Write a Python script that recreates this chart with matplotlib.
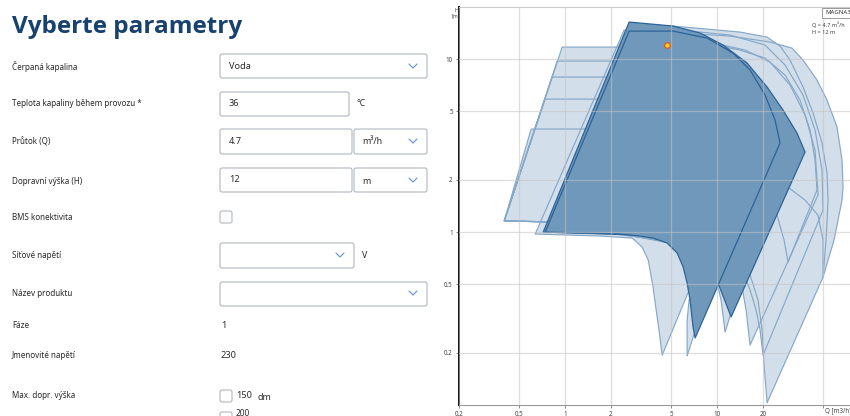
import matplotlib
matplotlib.use("Agg")
import matplotlib.pyplot as plt
from matplotlib.patches import Polygon, FancyBboxPatch, Rectangle

plt.rcParams["font.family"] = ["Noto Sans", "DejaVu Sans"]

# ---------------- form content ----------------
title = "Vyberte parametry"
form_labels = ["Čerpaná kapalina", "Teplota kapaliny během provozu *", "Průtok (Q)",
               "Dopravní výška (H)", "BMS konektivita", "Síťové napětí",
               "Název produktu", "Fáze", "Jmenovité napětí", "Max. dopr. výška"]
fluid = "Voda"
temperature = "36"
temp_unit = "°C"
flow = "4.7"
flow_unit = "m³/h"
head = "12"
head_unit = "m"
voltage_unit = "V"
phase = "1"
rated_voltage = "230"
max_head = "150"
max_head_unit = "dm"
next_option = "200"

# ---------------- chart content ----------------
x_ticks = [0.2, 0.5, 1, 2, 5, 10, 20, 50]
x_tick_labels = ["0.2", "0.5", "1", "2", "5", "10", "20", ""]
y_ticks = [0.2, 0.5, 1, 2, 5, 10]
y_tick_labels = ["0.2", "0.5", "1", "2", "5", "10"]
duty_q = 4.7
duty_h = 12
legend_name = "MAGNA3"
duty_text = ["Q = 4.7 m³/h", "H = 12 m"]

# light pump envelopes (Q [m3/h], H [m])
pump_a_q = [0.397, 0.956, 3.114, 7.73, 12.18, 10.46, 6.64, 2.30, 0.927]
pump_a_h = [1.16, 11.73, 11.73, 9.87, 4.44, 1.53, 1.03, 1.10, 1.14]
pump_b_q = [0.397, 0.886, 2.677, 7.73, 11.29, 9.70, 6.64, 2.30, 0.927]
pump_b_h = [1.16, 9.74, 9.74, 8.08, 3.89, 1.34, 1.03, 1.10, 1.14]
pump_c_q = [0.397, 0.821, 2.30, 6.64, 9.70, 8.34, 5.71, 2.30, 0.927]
pump_c_h = [1.16, 7.87, 7.87, 6.62, 3.40, 1.25, 1.03, 1.10, 1.14]
pump_d_q = [0.397, 0.739, 1.977, 5.71, 8.34, 7.17, 4.91, 2.30, 0.927]
pump_d_h = [1.16, 5.87, 5.87, 5.07, 2.61, 1.17, 1.03, 1.10, 1.14]
pump_e_q = [0.397, 0.597, 1.699, 4.91, 7.17, 6.16, 4.22, 2.30, 0.927]
pump_e_h = [1.16, 3.94, 3.94, 3.40, 2.00, 1.10, 1.03, 1.10, 1.14]

pump_t1_q = [0.635, 2.444, 7.73, 13.14, 19.18, 22.33, 9.56, 4.35, 4.15, 3.97, 3.79, 3.52, 3.21, 2.76, 1.699]
pump_t1_h = [0.974, 14.71, 12.88, 9.61, 6.19, 3.40, 1.03, 0.194, 0.271, 0.354, 0.481, 0.689, 0.819, 0.923, 0.948]
pump_p2_q = [1.164, 2.677, 7.73, 14.17, 12.18, 8.34, 6.35, 6.35, 6.54, 7.17, 7.73, 5.71, 3.114]
pump_p2_h = [1.05, 12.88, 12.05, 2.98, 1.17, 0.404, 0.192, 0.310, 0.404, 0.528, 0.689, 0.841, 1.0]
pump_p3_q = [1.079, 2.887, 7.73, 19.18, 30.22, 19.18, 13.75, 11.29, 10.62, 10.0, 8.34, 5.71, 1.699]
pump_p3_h = [1.05, 13.76, 12.05, 5.79, 2.98, 1.03, 0.462, 0.264, 0.404, 0.507, 0.645, 0.841, 1.03]
pump_r1_q = [1.079, 2.887, 7.73, 15.29, 22.33, 30.22, 37.93, 44.13, 46.19, 16.49, 15.52, 14.83, 13.75, 10.46, 5.71, 1.699]
pump_r1_h = [1.05, 14.32, 12.88, 11.27, 9.61, 7.07, 4.75, 2.98, 1.64, 0.222, 0.354, 0.444, 0.603, 0.787, 0.899, 1.0]
pump_r2_q = [1.164, 3.114, 5.71, 12.18, 20.70, 28.03, 36.80, 44.13, 49.08, 49.83, 20.07, 19.18, 18.06, 16.49, 14.60, 7.73, 1.699]
pump_r2_h = [1.05, 14.71, 14.71, 13.76, 12.05, 9.23, 6.19, 3.89, 2.28, 1.34, 0.194, 0.271, 0.354, 0.462, 0.603, 0.841, 1.0]
pump_r3_q = [1.164, 3.114, 5.71, 12.18, 22.33, 31.15, 36.80, 45.49, 52.94, 61.58, 66.44, 67.46, 66.44, 58.86,
             49.83, 21.33, 20.38, 19.78, 18.61, 16.49, 13.14, 7.73, 1.699]
pump_r3_h = [1.05, 14.14, 14.14, 13.58, 12.54, 11.57, 9.87, 7.56, 5.79, 4.05, 2.61, 1.82, 1.53, 0.899,
             0.549, 0.103, 0.170, 0.271, 0.404, 0.564, 0.689, 0.841, 1.0]
pump_r4_q = [1.255, 3.36, 7.73, 14.17, 20.70, 28.03, 35.17, 40.91, 44.13, 45.49, 29.32, 27.60, 24.82, 22.33, 10.46, 3.62]
pump_r4_h = [1.05, 13.58, 12.54, 11.27, 10.13, 8.08, 5.79, 3.89, 2.61, 1.75, 0.671, 0.899, 1.25, 1.64, 2.28, 1.53]
pump_r5_q = [1.079, 2.677, 5.13, 14.17, 21.33, 25.97, 30.22, 36.80, 42.81, 49.08, 52.94, 53.75, 52.14, 49.83,
             49.83, 46.19, 37.93, 28.03, 14.17, 7.73, 1.699]
pump_r5_h = [1.05, 15.52, 15.52, 14.32, 13.40, 11.89, 9.87, 6.89, 4.88, 3.27, 2.19, 1.53, 0.899, 0.549,
             0.899, 1.25, 1.53, 1.87, 1.53, 1.03, 1.03]

# selected pump envelopes (dark)
sel_outer_q = [0.717, 2.637, 3.114, 5.13, 7.73, 10.95, 15.76, 21.33, 27.18, 33.60, 37.93, 12.37, 10.15, 8.34, 5.71, 3.114]
sel_outer_h = [1.0, 16.37, 16.15, 15.52, 14.14, 12.05, 9.48, 6.89, 5.07, 3.73, 2.90, 0.323, 0.507, 0.736, 0.899, 0.961]
sel_inner_q = [0.739, 2.637, 5.13, 8.60, 12.75, 16.49, 20.70, 24.08, 25.97, 7.17, 6.95, 6.64, 6.35, 5.98, 5.46,
               4.69, 3.79, 3.114, 2.30]
sel_inner_h = [1.0, 14.51, 14.51, 13.22, 10.83, 8.64, 6.19, 4.44, 3.27, 0.244, 0.282, 0.404, 0.507, 0.628, 0.756,
               0.864, 0.923, 0.948, 0.974]

light_pumps = [
    (pump_r3_q, pump_r3_h), (pump_r5_q, pump_r5_h), (pump_r2_q, pump_r2_h),
    (pump_r4_q, pump_r4_h), (pump_r1_q, pump_r1_h), (pump_p3_q, pump_p3_h),
    (pump_p2_q, pump_p2_h), (pump_t1_q, pump_t1_h),
    (pump_a_q, pump_a_h), (pump_b_q, pump_b_h), (pump_c_q, pump_c_h),
    (pump_d_q, pump_d_h), (pump_e_q, pump_e_h),
]
dark_pumps = [(sel_outer_q, sel_outer_h), (sel_inner_q, sel_inner_h)]

W, H = 850, 416
fig = plt.figure(figsize=(W / 100, H / 100), dpi=100)
fig.patch.set_facecolor("white")

# ---------------- chart ----------------
ax = fig.add_axes([459 / W, 11 / H, 410 / W, 398 / H])
ax.set_xscale("log")
ax.set_yscale("log")
ax.set_xlim(0.2, 100)
ax.set_ylim(0.1, 20)

LIGHT_FILL = "#d2deea"
LIGHT_EDGE = "#86a8c8"
DARK_FILL = "#7098bb"
DARK_EDGE = "#2b6397"

for q, h in light_pumps:
    ax.add_patch(Polygon(list(zip(q, h)), closed=True, fc=LIGHT_FILL, ec="none", zorder=1))
for q, h in light_pumps:
    ax.add_patch(Polygon(list(zip(q, h)), closed=True, fill=False, ec=LIGHT_EDGE, lw=0.85,
                         joinstyle="round", zorder=2))
for i, (q, h) in enumerate(dark_pumps):
    ax.add_patch(Polygon(list(zip(q, h)), closed=True, fc=DARK_FILL, ec=DARK_EDGE, lw=0.9,
                         joinstyle="round", zorder=3 + i))

for xv in x_ticks:
    ax.axvline(xv, color="#c4c4c4", alpha=0.55, lw=0.9, zorder=6)
for yv in y_ticks:
    ax.axhline(yv, color="#c4c4c4", alpha=0.55, lw=0.9, zorder=6)

ax.plot([duty_q], [duty_h], "o", ms=4, mfc="#ffd21f", mec="#e4541d", mew=0.9, zorder=8)

ax.set_xticks(x_ticks)
ax.set_xticklabels(x_tick_labels)
ax.set_yticks(y_ticks)
ax.set_yticklabels(y_tick_labels)
ax.minorticks_off()
ax.tick_params(axis="x", length=2.5, width=0.6, color="#777777", labelsize=4.5, pad=1.5, labelcolor="#444444")
ax.tick_params(axis="y", length=2, width=0.6, color="#777777", labelsize=4.5, pad=2.5, labelcolor="#444444")
ax.spines["right"].set_visible(False)
ax.spines["left"].set_color("#111111")
ax.spines["left"].set_linewidth(1.4)
ax.spines["bottom"].set_color("#999999")
ax.spines["bottom"].set_linewidth(0.8)
ax.spines["top"].set_color("#cccccc")
ax.spines["top"].set_linewidth(0.8)
ax.annotate("Q [m3/h]", (50, 0.1), xytext=(2, -6), textcoords="offset pixels",
            ha="left", va="center", fontsize=4.5, color="#444444", annotation_clip=False)

# ---------------- overlay (form + chart annotations) ----------------
ov = fig.add_axes([0, 0, 1, 1])
ov.set_xlim(0, W)
ov.set_ylim(H, 0)
ov.axis("off")

TEXT = "#2a2a2a"
BORDER = "#b0b7bf"
CHEV = "#5d93d4"


def box(x0, y0, x1, y1, r=2):
    ov.add_patch(FancyBboxPatch((x0, y0), x1 - x0, y1 - y0,
                                boxstyle=f"round,pad=0,rounding_size={r}",
                                fc="white", ec=BORDER, lw=0.8))


def chevron(xc, yc):
    ov.plot([xc - 4, xc, xc + 4], [yc - 2, yc + 2, yc - 2], color=CHEV, lw=0.8,
            solid_capstyle="round")


ov.text(12, 33, title, fontsize=17.5, fontweight="bold", color="#17416f", va="baseline",
        family=["Open Sans", "DejaVu Sans"])

row_y = [67, 104, 142, 181, 218, 256, 294, 326, 356, 396]
for lab, yy in zip(form_labels, row_y):
    ov.text(12, yy, lab, fontsize=5.8, color=TEXT, va="center")

# fluid
box(220, 54, 427, 78)
ov.text(229, 66.5, fluid, fontsize=6.6, color=TEXT, va="center")
chevron(413, 66)
# temperature
box(220, 92, 349, 116)
ov.text(229, 104, temperature, fontsize=6.6, color=TEXT, va="center")
ov.text(357, 104, temp_unit, fontsize=6.2, color=TEXT, va="center")
# flow
box(220, 129, 352, 154)
box(354, 129, 427, 154)
ov.text(229, 142, flow, fontsize=6.6, color=TEXT, va="center")
ov.text(362, 142, flow_unit, fontsize=6.4, color=TEXT, va="center")
chevron(413, 141)
# head
box(220, 168, 352, 192)
box(354, 168, 427, 192)
ov.text(229, 180, head, fontsize=6.6, color=TEXT, va="center")
ov.text(362, 181, head_unit, fontsize=6.4, color=TEXT, va="center")
chevron(413, 180)
# BMS
box(220, 211, 232, 223, r=2)
# voltage
box(220, 243, 354, 268)
chevron(340, 255)
ov.text(362, 256, voltage_unit, fontsize=6.4, color=TEXT, va="center")
# product
box(220, 282, 427, 306)
chevron(413, 293)
# phase & rated voltage
ov.text(221, 326, phase, fontsize=6.6, color=TEXT, va="center")
ov.text(221, 356, rated_voltage, fontsize=6.6, color=TEXT, va="center")
# max head
box(220, 390, 232, 402, r=2)
ov.text(236, 396, max_head, fontsize=6.6, color=TEXT, va="center")
ov.text(258, 397, max_head_unit, fontsize=6.4, color=TEXT, va="center")
box(220, 412, 232, 424, r=2)
ov.text(236, 415.5, next_option, fontsize=6.0, color=TEXT, va="baseline")

# chart annotations
ov.text(456, 10, "H", fontsize=3.8, color="#444444", ha="center", va="center")
ov.text(456, 16, "[m]", fontsize=3.8, color="#444444", ha="center", va="center")
ov.add_patch(Rectangle((822, 8), 40, 10, fc="white", ec="#8a8a8a", lw=0.6))
ov.text(825, 13, legend_name, fontsize=4.3, color="#333333", va="center")
ov.text(812, 25, duty_text[0], fontsize=4.0, color="#444444", va="center")
ov.text(812, 33, duty_text[1], fontsize=4.0, color="#444444", va="center")

fig.savefig("out.png", dpi=100)
